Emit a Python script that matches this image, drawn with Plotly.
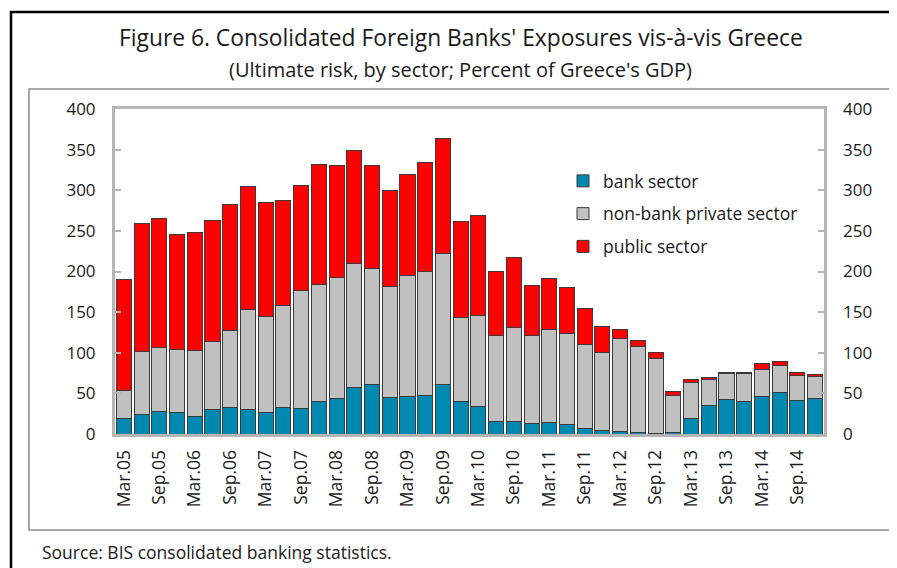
import plotly.graph_objects as go

#====================================================
# DATA
#====================================================

quarters = [
    "Mar.05", "Jun.05", "Sep.05", "Dec.05",
    "Mar.06", "Jun.06", "Sep.06", "Dec.06",
    "Mar.07", "Jun.07", "Sep.07", "Dec.07",
    "Mar.08", "Jun.08", "Sep.08", "Dec.08",
    "Mar.09", "Jun.09", "Sep.09", "Dec.09",
    "Mar.10", "Jun.10", "Sep.10", "Dec.10",
    "Mar.11", "Jun.11", "Sep.11", "Dec.11",
    "Mar.12", "Jun.12", "Sep.12", "Dec.12",
    "Mar.13", "Jun.13", "Sep.13", "Dec.13",
    "Mar.14", "Jun.14", "Sep.14", "Dec.14",
]

tick_labels = [
    "Mar.05", "Sep.05", "Mar.06", "Sep.06", "Mar.07", "Sep.07",
    "Mar.08", "Sep.08", "Mar.09", "Sep.09", "Mar.10", "Sep.10",
    "Mar.11", "Sep.11", "Mar.12", "Sep.12", "Mar.13", "Sep.13",
    "Mar.14", "Sep.14",
]

bank_sector = [
    18.5, 24, 28, 27, 22, 30, 32.5, 30, 27, 32.5,
    31, 39.5, 43.6, 57.5, 60.5, 44.4, 46, 47.3, 61.3, 39.5,
    33.3, 14.8, 16, 12.8, 13.6, 11.5, 6.2, 3.7, 2.7, 2,
    0.5, 1.5, 18.5, 35, 42.4, 39.5, 46, 51, 41, 43.2,
]

nonbank_private = [
    34.5, 77, 78, 77, 80.5, 83.5, 95.5, 123, 117.5, 125.5,
    145.5, 144.5, 149.4, 152.5, 143.5, 137.6, 149, 152.7, 160.7, 103.5,
    112.4, 106.2, 115, 108.2, 114.8, 112.5, 103.8, 96.3, 114.3, 106,
    92.1, 45.5, 44.5, 31.7, 31.6, 34.5, 34, 33, 30.6, 27.6,
]

public_sector = [
    137.5, 158, 159, 141, 146, 149.5, 155, 152, 140.5, 129,
    129.5, 148, 138, 138.5, 126, 117.6, 124, 133.7, 142, 119,
    123.8, 79.4, 86, 62, 62.6, 56.7, 44.7, 32, 11.4, 7,
    7.4, 5, 4.5, 3.3, 2, 2, 7, 5, 4.4, 2.9,
]

totals = [b + n + p for b, n, p in zip(bank_sector, nonbank_private, public_sector)]

#====================================================
# LAYOUT HELPERS (screen pixel -> paper)
#====================================================

# the page body has an 8px margin, so the figure is drawn 8px in;
# it overflows the window by the same amount on the right/bottom
OFF = 8
W, H = 897, 568
PL, PR, PT, PB = 115, 824, 109, 434


def px_x(x):
    return (x - PL) / (PR - PL)


def px_y(y):
    return (PB - y) / (PB - PT)


FONT = "Open Sans"
OUTLINE = "#3a3a3a"
AXIS_GREY = "#b5b5b5"

#====================================================
# FIGURE
#====================================================

fig = go.Figure()

series = [
    ("bank sector", bank_sector, "#0089b0"),
    ("non-bank private sector", nonbank_private, "#c0c0c0"),
    ("public sector", public_sector, "#ff0000"),
]

for name, values, colour in series:
    fig.add_trace(go.Bar(
        x=quarters,
        y=values,
        name=name,
        legendgroup=name,
        marker=dict(color=colour, line=dict(color=OUTLINE, width=1)),
    ))

# invisible trace so the right-hand axis is drawn
fig.add_trace(go.Scatter(
    x=quarters, y=totals, yaxis="y2", mode="none",
    showlegend=False, hoverinfo="skip",
))

fig.update_layout(
    width=W,
    height=H,
    barmode="stack",
    bargap=0.15,
    paper_bgcolor="white",
    plot_bgcolor="white",
    margin=dict(l=PL - OFF, r=W - (PR - OFF), t=PT - OFF, b=H - (PB - OFF), pad=0),
    font=dict(family=FONT, size=17, color="#1a1a1a"),
    showlegend=True,
    legend=dict(
        x=px_x(563), y=px_y(163), xanchor="left", yanchor="top",
        bgcolor="rgba(0,0,0,0)", font=dict(size=17.5),
        tracegroupgap=7, itemwidth=30,
    ),
    xaxis=dict(
        type="category",
        range=[-0.5, len(quarters) - 0.5],
        tickmode="array",
        tickvals=tick_labels,
        ticktext=tick_labels,
        tickangle=-90,
        ticks="",
        showline=True, linecolor=AXIS_GREY, linewidth=3, mirror=True,
        showgrid=False, zeroline=False,
        ticklabelstandoff=6,
        tickfont=dict(size=17.5),
    ),
    yaxis=dict(
        range=[0, 400],
        dtick=50,
        ticks="inside", ticklen=6, tickcolor=AXIS_GREY, tickwidth=2,
        showline=True, linecolor=AXIS_GREY, linewidth=3, mirror=True,
        showgrid=False, zeroline=False,
        ticklabelstandoff=13,
        tickfont=dict(size=17),
    ),
    yaxis2=dict(
        range=[0, 400],
        dtick=50,
        overlaying="y",
        side="right",
        ticks="inside", ticklen=6, tickcolor=AXIS_GREY, tickwidth=2,
        showline=False, showgrid=False, zeroline=False,
        ticklabelstandoff=18,
        tickfont=dict(size=17),
    ),
)

#====================================================
# FRAMES
#====================================================

fig.add_shape(type="rect", xref="paper", yref="paper",
              x0=px_x(11), x1=px_x(930), y0=px_y(12), y1=px_y(620),
              line=dict(color="black", width=2.5), layer="below")
fig.add_shape(type="rect", xref="paper", yref="paper",
              x0=px_x(29), x1=px_x(893), y0=px_y(89), y1=px_y(530),
              line=dict(color="#8c8c8c", width=1.5), layer="below")

#====================================================
# TEXT
#====================================================

fig.add_annotation(
    text="Figure 6. Consolidated Foreign Banks' Exposures vis-à-vis Greece",
    xref="paper", yref="paper", x=px_x(461), y=px_y(38),
    xanchor="center", yanchor="middle", showarrow=False,
    font=dict(size=22.8, family=FONT, color="#1a1a1a"),
)
fig.add_annotation(
    text="(Ultimate risk, by sector; Percent of Greece's GDP)",
    xref="paper", yref="paper", x=px_x(460), y=px_y(70),
    xanchor="center", yanchor="middle", showarrow=False,
    font=dict(size=20, family=FONT, color="#1a1a1a"),
)
fig.add_annotation(
    text="Source: BIS consolidated banking statistics.",
    xref="paper", yref="paper", x=px_x(40), y=px_y(552),
    xanchor="left", yanchor="middle", showarrow=False,
    font=dict(size=17.5, family=FONT, color="#1a1a1a"),
)

fig.write_html("out.html")
